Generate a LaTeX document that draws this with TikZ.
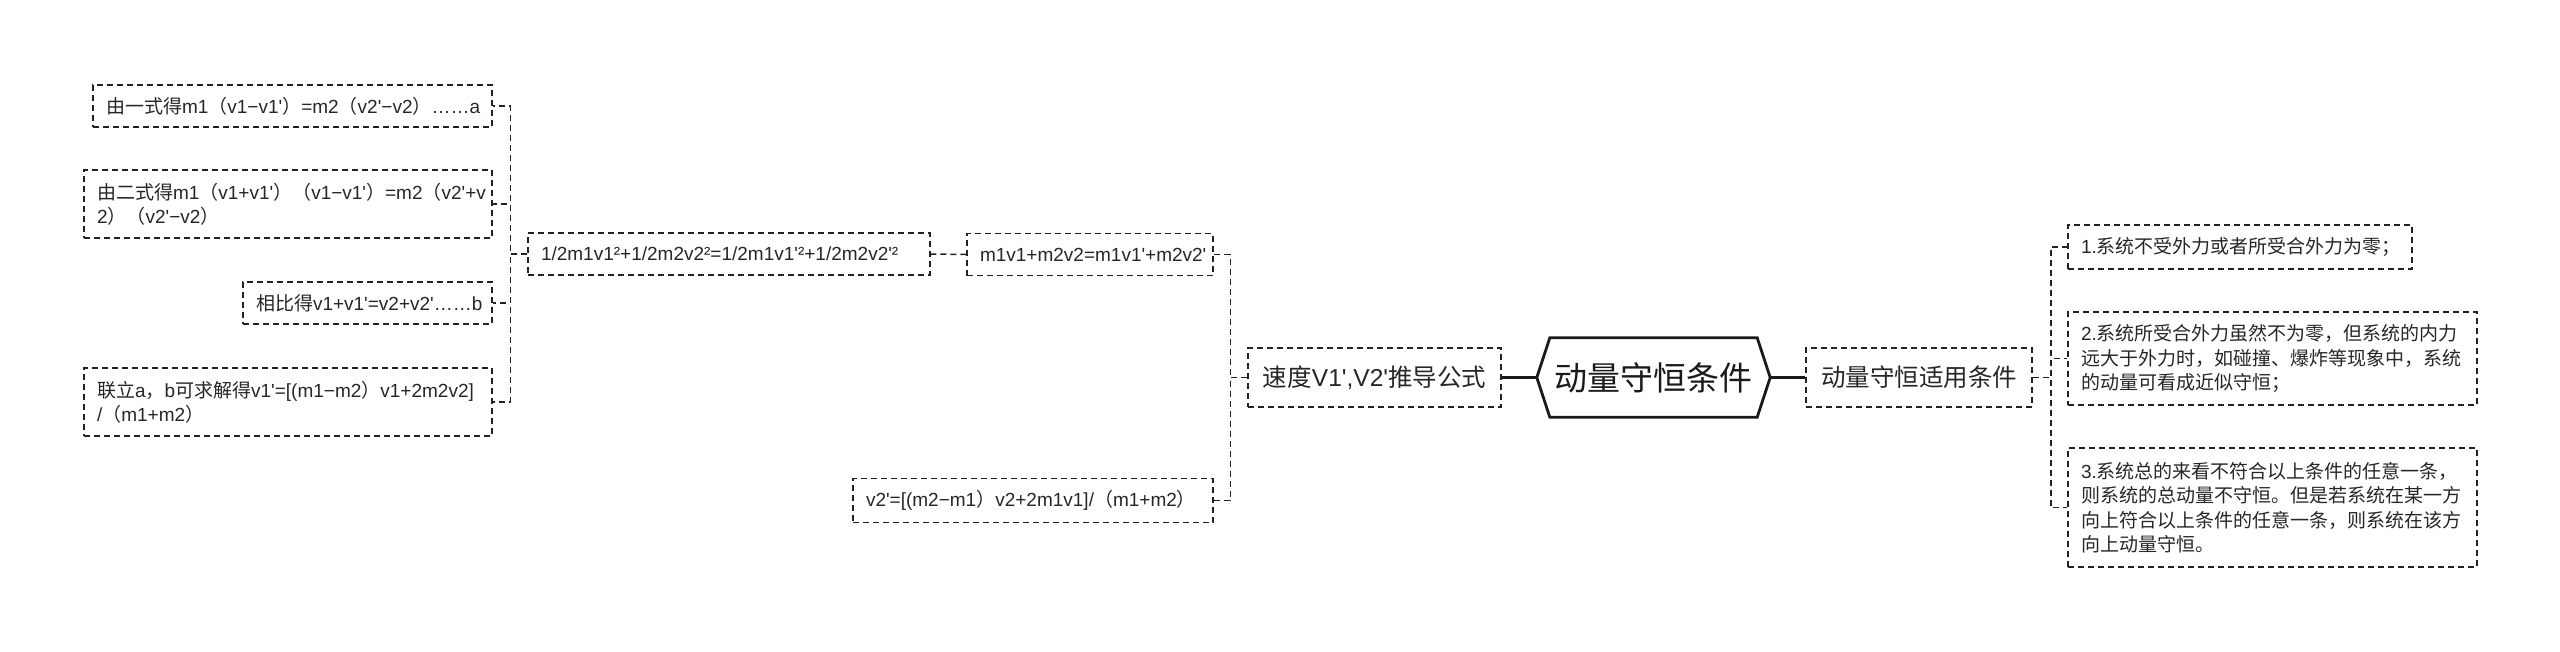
\documentclass[tikz,border=0pt]{standalone}
\usepackage{fontspec}
\newfontfamily\cjkfont{Noto Sans CJK SC}
\newfontfamily\latinfont{Liberation Sans}
\usetikzlibrary{calc}
\newXeTeXintercharclass\CJKcls
\newcount\mycnt
\mycnt="3000 \loop \XeTeXcharclass\mycnt=\CJKcls \advance\mycnt 1 \ifnum\mycnt<"3040 \repeat
\mycnt="4E00 \loop \XeTeXcharclass\mycnt=\CJKcls \advance\mycnt 1 \ifnum\mycnt<"A000 \repeat
\mycnt="FF00 \loop \XeTeXcharclass\mycnt=\CJKcls \advance\mycnt 1 \ifnum\mycnt<"FFF0 \repeat
\XeTeXinterchartoks 0 \CJKcls = {\cjkfont}
\XeTeXinterchartoks 4095 \CJKcls = {\cjkfont}
\XeTeXinterchartoks \CJKcls 0 = {\latinfont}
\XeTeXinterchartokenstate=1
\definecolor{linec}{HTML}{222222}
\definecolor{textc}{HTML}{262626}
\definecolor{hexc}{HTML}{1A1A1A}
\tikzset{
  leaf/.style={draw=linec, dash pattern=on 6pt off 4pt, line width=1.5pt, rectangle,
    inner xsep=13pt, inner ysep=0pt, align=left, text=textc,
    font=\latinfont\fontsize{19}{24.4}\selectfont},
  branch/.style={draw=linec, dash pattern=on 6pt off 4pt, line width=1.5pt, rectangle,
    inner xsep=6pt, inner ysep=0pt, align=center, text=textc,
    font=\latinfont\fontsize{24.5}{28}\selectfont},
  conn/.style={draw=linec, dash pattern=on 6pt off 4pt, line width=1.5pt},
  mainline/.style={draw=hexc, line width=2.8pt},
}
\begin{document}
\begin{tikzpicture}[x=1pt,y=-1pt]
\useasboundingbox (0,0) rectangle (2560,651);
% left leaves
\node[leaf, text width=373pt, minimum height=42pt] (a) at (292.5,106) {由一式得m1（v1−v1'）=m2（v2'−v2）……a};
\node[leaf, text width=382pt, minimum height=68pt] (e2) at (288,204) {由二式得m1（v1+v1'）（v1−v1'）=m2（v2'+v\\2）（v2'−v2）};
\node[leaf, text width=223pt, minimum height=42pt] (b) at (367.5,303) {相比得v1+v1'=v2+v2'……b};
\node[leaf, text width=382pt, minimum height=68pt] (lian) at (288,402) {联立a，b可求解得v1'=[(m1−m2）v1+2m2v2]\\/（m1+m2）};
% middle
\node[leaf, text width=376pt, minimum height=42pt] (half) at (729,254) {1/2m1v1²+1/2m2v2²=1/2m1v1'²+1/2m2v2'²};
\node[leaf, text width=220pt, minimum height=42pt] (mom) at (1090,254.5) {m1v1+m2v2=m1v1'+m2v2'};
\node[leaf, text width=334pt, minimum height=44pt] (v2) at (1033,500.5) {v2'=[(m2−m1）v2+2m1v1]/（m1+m2）};
\node[branch, text width=241pt, minimum height=59pt] (speed) at (1374.5,377.5) {速度V1',V2'推导公式};
% center
\node[font=\cjkfont\fontsize{33}{40}\selectfont, text=hexc, minimum width=233pt, minimum height=79pt, inner sep=0pt] (hex) at (1653.5,377.5) {动量守恒条件};
\draw[mainline, line join=miter] (hex.west) -- ($(hex.north west)+(13,0)$) -- ($(hex.north east)+(-13,0)$) -- (hex.east) -- ($(hex.south east)+(-13,0)$) -- ($(hex.south west)+(13,0)$) -- cycle;
% right
\node[branch, text width=214pt, minimum height=59pt] (apply) at (1919,377.5) {动量守恒适用条件};
\node[leaf, text width=318pt, minimum height=44pt] (r1) at (2240,247) {1.系统不受外力或者所受合外力为零；};
\node[leaf, text width=383pt, minimum height=93pt] (r2) at (2272.5,358.5) {2.系统所受合外力虽然不为零，但系统的内力\\远大于外力时，如碰撞、爆炸等现象中，系统\\的动量可看成近似守恒；};
\node[leaf, text width=383pt, minimum height=119pt] (r3) at (2272.5,507.5) {3.系统总的来看不符合以上条件的任意一条，\\则系统的总动量不守恒。但是若系统在某一方\\向上符合以上条件的任意一条，则系统在该方\\向上动量守恒。};
% connectors
\draw[conn] (half.west) -- ++(-17,0) |- (a.east);
\draw[conn] (half.west) -- ++(-17,0) |- (e2.east);
\draw[conn] (half.west) -- ++(-17,0) |- (b.east);
\draw[conn] (half.west) -- ++(-17,0) |- (lian.east);
\draw[conn] (mom.west) -- (half.east);
\draw[conn] (speed.west) -- ++(-17,0) |- (mom.east);
\draw[conn] (speed.west) -- ++(-17,0) |- (v2.east);
\draw[mainline] (hex.west) -- (speed.east);
\draw[mainline] (hex.east) -- (apply.west);
\draw[conn] (apply.east) -- ++(18,0) |- (r1.west);
\draw[conn] (apply.east) -- ++(18,0) |- (r2.west);
\draw[conn] (apply.east) -- ++(18,0) |- (r3.west);
\end{tikzpicture}
\end{document}
